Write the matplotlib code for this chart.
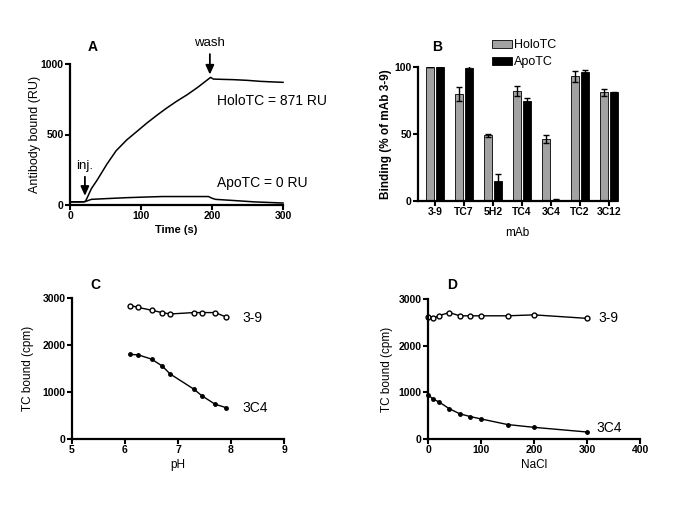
import numpy as np
import matplotlib
matplotlib.use('Agg')
from matplotlib import pyplot as plt

plt.rcParams['font.family'] = ['Liberation Sans', 'DejaVu Sans']

# panel A: sensorgram (time in s, response in RU)
holo_t = [0, 10, 20, 22, 25, 30, 38, 52, 65, 80, 95, 108, 122, 136, 150, 165, 180, 198, 202, 215, 230, 250, 268, 285, 300]
holo_ru = [22, 22, 23, 28, 60, 115, 175, 290, 385, 462, 525, 580, 635, 687, 735, 782, 835, 905, 893, 891, 889, 884, 877, 873, 870]
apo_t = [0, 10, 20, 22, 30, 50, 80, 110, 130, 160, 195, 200, 205, 230, 260, 300]
apo_ru = [22, 22, 23, 25, 40, 45, 52, 57, 60, 60, 60, 48, 40, 32, 22, 14]

# panel B: binding relative to mAb 3-9
mabs = ['3-9', 'TC7', '5H2', 'TC4', '3C4', 'TC2', '3C12']
holo_bind = [100, 80, 49, 82, 46, 93, 81]
holo_err = [0, 5, 1, 3.5, 3, 4, 2.5]
apo_bind = [100, 99, 15, 75, 1, 96, 81]
apo_err = [0, 1.5, 5.5, 1.5, 0.3, 1.5, 0.5]

# panel C: pH dependence
ph = [6.1, 6.25, 6.5, 6.7, 6.85, 7.3, 7.45, 7.7, 7.9]
ph_39 = [2840, 2800, 2740, 2690, 2660, 2690, 2690, 2690, 2600]
ph_3c4 = [1800, 1790, 1700, 1555, 1385, 1060, 920, 740, 670]

# panel D: NaCl dependence
nacl = [0, 10, 20, 40, 60, 80, 100, 150, 200, 300]
nacl_39 = [2620, 2585, 2640, 2710, 2640, 2640, 2640, 2640, 2660, 2585]
nacl_3c4 = [950, 850, 800, 650, 540, 480, 430, 310, 250, 150]

W, H = 685, 513
fig = plt.figure(figsize=(W / 100, H / 100), dpi=100)


def px_axes(left, right, top, bottom):
	return fig.add_axes([left / W, 1 - bottom / H, (right - left) / W, (bottom - top) / H])


def style(ax):
	for s in ['top', 'right']:
		ax.spines[s].set_visible(False)
	for s in ['left', 'bottom']:
		ax.spines[s].set_linewidth(1.6)
	ax.tick_params(direction='out', length=3.5, width=1.5, labelsize=7.5, pad=1)
	for lab in ax.get_xticklabels() + ax.get_yticklabels():
		lab.set_fontweight('bold')


def ptext(x, y, s, **kw):
	fig.text(x / W, 1 - y / H, s, ha='center', va='center', **kw)


arrow_props = dict(arrowstyle='-|>,head_width=0.25,head_length=0.55', color='black', lw=1.3,
	shrinkA=0, shrinkB=0)

# ---- A
axA = px_axes(70, 283, 64, 205)
axA.plot(holo_t, holo_ru, color='black', lw=1.1, clip_on=False)
axA.plot(apo_t, apo_ru, color='black', lw=1.1, clip_on=False)
axA.set_xlim(0, 300)
axA.set_ylim(0, 1000)
axA.set_xticks([0, 100, 200, 300])
axA.set_yticks([0, 500, 1000])
axA.set_xlabel('Time (s)', fontsize=8, fontweight='bold', labelpad=3)
axA.set_ylabel('Antibody bound (RU)', fontsize=9, labelpad=0)
axA.annotate('', xy=(21, 65), xytext=(21, 200), arrowprops=arrow_props)
axA.text(21, 235, 'inj.', ha='center', va='bottom', fontsize=9.5)
axA.annotate('', xy=(197, 925), xytext=(197, 1070), annotation_clip=False, arrowprops=arrow_props)
axA.text(197, 1105, 'wash', ha='center', va='bottom', fontsize=9.5, clip_on=False)
axA.text(207, 737, 'HoloTC = 871 RU', ha='left', va='center', fontsize=10)
axA.text(207, 156, 'ApoTC = 0 RU', ha='left', va='center', fontsize=10)
style(axA)
ptext(93, 47, 'A', fontsize=10, fontweight='bold')

# ---- B
axB = px_axes(418, 617, 67, 201)
x = np.arange(len(mabs))
w = 0.27
axB.bar(x - 0.17, holo_bind, w, yerr=holo_err, color='#a2a2a2', edgecolor='black', lw=0.6,
	error_kw=dict(capsize=2, elinewidth=1, capthick=1), label='HoloTC', clip_on=False)
axB.bar(x + 0.17, apo_bind, w, yerr=apo_err, color='black', edgecolor='black', lw=0.6,
	error_kw=dict(capsize=2, elinewidth=1, capthick=1), label='ApoTC', clip_on=False)
axB.set_xlim(-0.59, 6.28)
axB.set_ylim(0, 100)
axB.set_xticks(x)
axB.set_xticklabels(mabs)
axB.set_yticks([0, 50, 100])
axB.set_xlabel('mAb', fontsize=8.5, labelpad=7)
axB.set_ylabel('Binding (% of mAb 3-9)', fontsize=8.5, fontweight='bold', labelpad=2)
style(axB)
axB.legend(loc='center', bbox_to_anchor=(524 / W, 1 - 54 / H), bbox_transform=fig.transFigure,
	frameon=False, fontsize=9, handlelength=1.6, handleheight=0.6, handletextpad=0.15, labelspacing=0.4)
ptext(437, 47, 'B', fontsize=10, fontweight='bold')

# ---- C
axC = px_axes(72, 284, 298, 439)
axC.plot(ph, ph_39, '-o', color='black', mfc='white', mec='black', ms=3.5, mew=1, lw=1)
axC.plot(ph, ph_3c4, '-o', color='black', ms=2.5, lw=1)
axC.set_xlim(5, 9)
axC.set_ylim(0, 3000)
axC.set_xticks([5, 6, 7, 8, 9])
axC.set_yticks([0, 1000, 2000, 3000])
axC.set_xlabel('pH', fontsize=8.5, labelpad=3)
axC.set_ylabel('TC bound (cpm)', fontsize=8.5, labelpad=6)
axC.text(8.22, 2580, '3-9', ha='left', va='center', fontsize=10)
axC.text(8.22, 660, '3C4', ha='left', va='center', fontsize=10)
style(axC)
ptext(95, 285, 'C', fontsize=10, fontweight='bold')

# ---- D
axD = px_axes(428, 640, 299, 439)
axD.plot(nacl, nacl_39, '-o', color='black', mfc='white', mec='black', ms=3.5, mew=1, lw=1, clip_on=False)
axD.plot(nacl, nacl_3c4, '-o', color='black', ms=2.5, lw=1, clip_on=False)
axD.set_xlim(0, 400)
axD.set_ylim(0, 3000)
axD.set_xticks([0, 100, 200, 300, 400])
axD.set_yticks([0, 1000, 2000, 3000])
axD.set_xlabel('NaCl', fontsize=8.5, labelpad=3)
axD.set_ylabel('TC bound (cpm)', fontsize=8.5, labelpad=4)
axD.text(322, 2590, '3-9', ha='left', va='center', fontsize=10)
axD.text(318, 241, '3C4', ha='left', va='center', fontsize=10)
style(axD)
ptext(452, 285, 'D', fontsize=10, fontweight='bold')

fig.savefig('out.png', dpi=100)
